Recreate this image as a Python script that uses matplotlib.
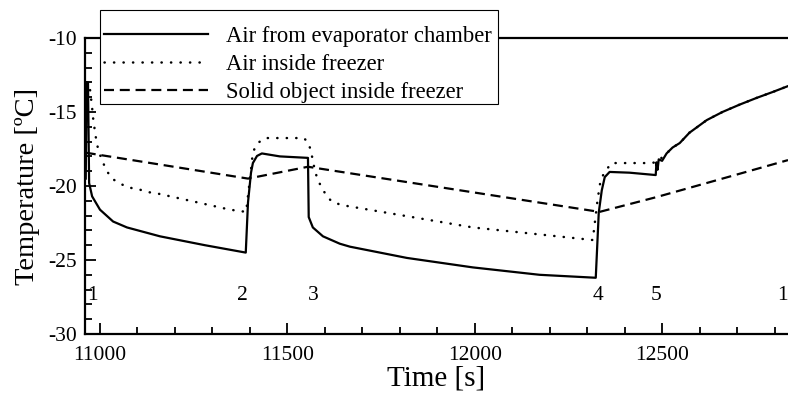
import matplotlib
matplotlib.use("Agg")
import matplotlib.pyplot as plt
from matplotlib.patches import Rectangle
from matplotlib.ticker import MultipleLocator

plt.rcParams['font.family'] = ['Liberation Serif', 'DejaVu Serif']
plt.rcParams['axes.unicode_minus'] = False

# Air from evaporator chamber (solid)
t_evap = [10962, 10964, 10968, 10971, 10979, 11000, 11035, 11072, 11160, 11280, 11389,
          11395, 11403, 11408, 11419, 11432, 11480, 11555, 11557, 11568, 11595, 11640,
          11667, 11819, 11995, 12173, 12323, 12331, 12339, 12347, 12360, 12413, 12483,
          12485, 12488, 12491, 12500, 12512, 12528, 12547, 12573, 12619, 12661, 12707,
          12752, 12795, 12836]
T_evap = [-19.5, -13.0, -13.0, -19.8, -20.7, -21.6, -22.4, -22.8, -23.4, -24.0, -24.5,
          -21.1, -19.1, -18.45, -17.97, -17.8, -18.0, -18.1, -22.1, -22.8, -23.4, -23.9,
          -24.1, -24.86, -25.5, -26.0, -26.2, -21.8, -20.3, -19.4, -19.05, -19.1, -19.26,
          -18.4, -18.9, -18.2, -18.3, -17.8, -17.4, -17.1, -16.4, -15.55, -15.0, -14.5,
          -14.05, -13.65, -13.25]

# Air inside freezer (dotted)
t_air = [10964, 10968, 10973, 10979, 10981, 10987, 10992, 11000, 11008, 11016, 11032,
         11051, 11075, 11101, 11125, 11152, 11250, 11347, 11390, 11403, 11408, 11421,
         11440, 11544, 11557, 11565, 11573, 11581, 11592, 11605, 11621, 11648, 11995,
         12315, 12328, 12336, 12347, 12365, 12467, 12485, 12512, 12528, 12547, 12573,
         12619, 12661, 12707, 12752, 12795, 12836]
T_air = [-13.0, -13.0, -13.4, -14.7, -15.3, -16.4, -17.2, -17.9, -18.4, -18.9, -19.5,
         -19.8, -20.1, -20.2, -20.4, -20.5, -21.05, -21.6, -21.75, -18.9, -17.7, -17.1,
         -16.76, -16.76, -17.1, -17.9, -18.9, -19.6, -20.1, -20.7, -21.1, -21.3, -22.8,
         -23.65, -20.9, -19.6, -19.05, -18.45, -18.45, -18.4, -17.8, -17.4, -17.1, -16.4,
         -15.55, -15.0, -14.5, -14.05, -13.65, -13.25]

# Solid object inside freezer (dashed)
t_obj = [10962, 11395, 11555, 12333, 12485, 12661, 12836]
T_obj = [-17.75, -19.5, -18.7, -21.75, -20.75, -19.5, -18.25]

# cycle stage markers
stage_t = [10981, 11381, 11568, 12328, 12485, 12821]
stage_lbl = ['1', '2', '3', '4', '5', '1']

fig = plt.figure(figsize=(7.88, 3.93), dpi=100)
ax = fig.add_axes([85 / 788, 59 / 393, 1 - 85 / 788, 296 / 393])

l1, = ax.plot(t_evap, T_evap, color='black', lw=1.6)
l2, = ax.plot(t_air, T_air, color='black', lw=1.8, linestyle=(0, (0.1, 3.7)),
              dash_capstyle='round')
l3, = ax.plot(t_obj, T_obj, color='black', lw=1.6, linestyle=(0, (4.5, 2.6)))

for t, s in zip(stage_t, stage_lbl):
    ax.text(t, -27.4, s, ha='center', va='center', fontsize=15.5)

ax.set_xlim(10960, 12836)
ax.set_ylim(-30, -10)
ax.xaxis.set_major_locator(MultipleLocator(500))
ax.xaxis.set_minor_locator(MultipleLocator(100))
ax.yaxis.set_major_locator(MultipleLocator(5))
ax.yaxis.set_minor_locator(MultipleLocator(1))
ax.tick_params(which='both', direction='in', top=False, right=False, labelsize=15.5, width=1.3)
ax.tick_params(which='major', length=8)
ax.tick_params(which='minor', length=5)
ax.tick_params(axis='x', pad=9)
ax.tick_params(axis='y', pad=6)
ax.spines['right'].set_visible(False)
for sp in ['left', 'bottom', 'top']:
    ax.spines[sp].set_linewidth(1.6)

ax.set_xlabel('Time [s]', fontsize=21, labelpad=0)
ax.set_ylabel('Temperature [ºC]', fontsize=20.5, labelpad=6)

# legend box drawn separately so the text can sit where it does in the original
box = Rectangle((100 / 788, 1 - 104 / 393), 398 / 788, 94 / 393, transform=fig.transFigure,
                facecolor='white', edgecolor='black', lw=0.8, zorder=5)
fig.patches.append(box)
leg = fig.legend([l1, l2, l3],
                 ['Air from evaporator chamber', 'Air inside freezer', 'Solid object inside freezer'],
                 loc='upper left', bbox_to_anchor=(96 / 788, 375 / 393),
                 fontsize=16.3, frameon=False, borderaxespad=0, borderpad=0.35,
                 handlelength=4.6, handletextpad=0.8, labelspacing=0.30)
leg.set_zorder(6)

fig.savefig('out.png', dpi=100)
